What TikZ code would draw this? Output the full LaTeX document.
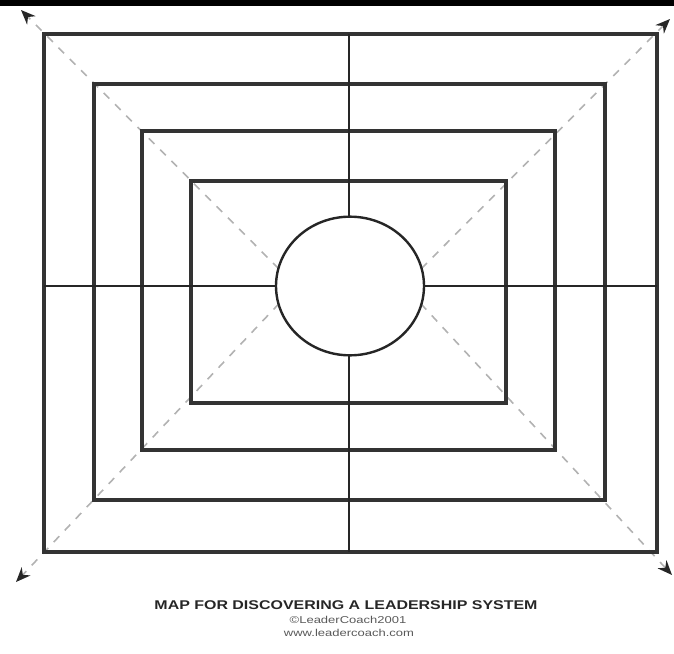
\documentclass[tikz,border=0pt]{standalone}
\usepackage{fontspec}
\setmainfont{Liberation Sans}
\usetikzlibrary{arrows.meta,shapes.geometric}
\begin{document}
\begin{tikzpicture}[x=0.75pt,y=-0.75pt,
  frame/.style={draw=black!80,line width=2.4pt},
  diag/.style={draw=black!30,line width=1.2pt,dash pattern=on 6pt off 6pt,
    -{Stealth[length=11pt,width=9pt,color=black!85]}},
  axis/.style={draw=black!85,line width=2.2pt}]
\useasboundingbox (0,0) rectangle (674,653);
\fill[black] (0,0) rectangle (674,6);
% diagonal guides
\coordinate (ctl) at (290,280);
\coordinate (ctr) at (410,280);
\coordinate (cbl) at (290,292);
\coordinate (cbr) at (410,292);
\coordinate (ttl) at (21,10);
\coordinate (ttr) at (670,19);
\coordinate (tbl) at (16,582);
\coordinate (tbr) at (672,575);
\draw[diag] (ctl) -- (ttl);
\draw[diag] (ctr) -- (ttr);
\draw[diag] (cbl) -- (tbl);
\draw[diag] (cbr) -- (tbr);
% rectangles
\draw[frame] (44,34) rectangle (657,552);
\draw[frame] (94,84) rectangle (605,500);
\draw[frame] (142,131) rectangle (555,450);
\draw[frame] (191,181) rectangle (506,403);
% axes
\coordinate (top) at (349,34);
\coordinate (bot) at (349,552);
\coordinate (lft) at (44,286);
\coordinate (rgt) at (657,286);
\draw[axis] (top) -- (bot);
\draw[axis] (lft) -- (rgt);
% centre
\node[ellipse,draw=black!85,fill=white,line width=1.8pt,minimum width=111pt,minimum height=104pt,inner sep=0pt] (c) at (350,286) {};
% caption
\node[font=\bfseries\fontsize{9.5}{11}\selectfont,text=black!85,inner sep=0pt] (t1) at (346,605) {\scalebox{1.26}[1]{MAP FOR DISCOVERING A LEADERSHIP SYSTEM}};
\node[font=\fontsize{7.5}{8}\selectfont,text=black!65,inner sep=0pt] (t2) at (348,620) {\scalebox{1.3}[1]{©LeaderCoach2001}};
\node[font=\fontsize{7.5}{8}\selectfont,text=black!65,inner sep=0pt] (t3) at (349,633) {\scalebox{1.3}[1]{www.leadercoach.com}};
\end{tikzpicture}
\end{document}
